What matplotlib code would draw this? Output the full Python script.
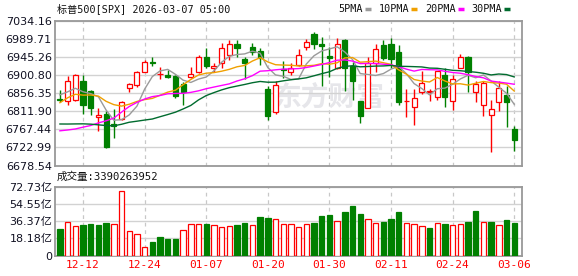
import matplotlib.pyplot as plt
import numpy as np
from matplotlib.lines import Line2D

dates = ['12-09', '12-10', '12-11', '12-12', '12-15', '12-16', '12-17', '12-18', '12-19', '12-22',
         '12-23', '12-24', '12-26', '12-29', '12-30', '12-31', '01-02', '01-05', '01-06', '01-07',
         '01-08', '01-09', '01-12', '01-13', '01-14', '01-15', '01-16', '01-20', '01-21', '01-22',
         '01-23', '01-26', '01-27', '01-28', '01-29', '01-30', '02-02', '02-03', '02-04', '02-05',
         '02-06', '02-09', '02-10', '02-11', '02-12', '02-13', '02-17', '02-18', '02-19', '02-20',
         '02-23', '02-24', '02-25', '02-26', '02-27', '03-02', '03-03', '03-04', '03-05', '03-06']

opens = [6843, 6836.7, 6840, 6887.5, 6862.9, 6799, 6805.5, 6780, 6794, 6869.5,
         6876, 6908.8, 6935, 6903, 6902, 6900, 6879, 6896, 6910, 6946.5,
         6919, 6931, 6950, 6977.6, 6940.7, 6970, 6961, 6868, 6810.5, 6917,
         6910, 6927, 6970, 7003, 6977.6, 6948, 6920, 6988, 6925, 6838,
         6820, 6931, 6976, 6977.6, 6958, 6837, 6823.5, 6859.6, 6861, 6847.3,
         6902, 6838.3, 6918.6, 6946.5, 6859.6, 6826.8, 6803.9, 6835, 6853, 6769.5]
highs = [6864.5, 6899.8, 6904, 6902, 6865, 6820, 6812, 6817, 6838, 6881.7,
         6912, 6939, 6945.7, 6921, 6915, 6902, 6884, 6921, 6951, 6969.4,
         6931, 6980, 6987.5, 6989, 6945.7, 6980, 6968, 6874, 6886, 6936.6,
         6932, 6967, 6990.7, 7007, 6995.7, 6972, 6992, 6990, 6935, 6838,
         6945.7, 6978, 6988.3, 6994, 6976, 6868, 6868, 6912, 6866, 6912,
         6918.6, 6902, 6953, 6948, 6886, 6886, 6840.8, 6887.5, 6873.6, 6775]
lows = [6835, 6826.8, 6836.7, 6805.5, 6803.9, 6763, 6722, 6746.5, 6791, 6859.6,
        6871, 6908, 6925, 6892, 6894, 6846, 6827, 6894, 6906, 6920,
        6910, 6920, 6939, 6945, 6891.6, 6950, 6927, 6791.6, 6805.5, 6894,
        6901, 6923, 6963.6, 6966, 6873.6, 6895.7, 6917, 6863, 6841, 6783.5,
        6820, 6909, 6939, 6918.6, 6827, 6797, 6777.7, 6854.6, 6837, 6841,
        6822, 6816, 6918, 6861, 6834, 6800, 6712, 6813.7, 6772.7, 6713.7]
closes = [6841, 6887.5, 6902, 6828.5, 6820, 6802, 6723.6, 6777, 6835, 6879,
          6910, 6933, 6932, 6905, 6898, 6849, 6861, 6904, 6946.5, 6923,
          6924.5, 6968, 6977.6, 6967.8, 6931, 6958, 6943, 6800, 6877.7, 6914.5,
          6918.6, 6951.4, 6982, 6979, 6972.7, 6943, 6977.6, 6920, 6886, 6800,
          6931, 6966, 6943, 6941, 6835, 6838.6, 6845, 6882, 6863, 6910.4,
          6846.5, 6892.4, 6947.3, 6908.8, 6879.3, 6881.7, 6818.6, 6869.5, 6835, 6742.5]
prev_close = 6846.5

# volume in 亿
volume = [27.9, 35.3, 30.7, 32.1, 33.2, 32.1, 34.2, 32.8, 68.1, 25.8,
          22.2, 8.8, 14.1, 19.4, 17.3, 17.3, 26.8, 32.8, 32.8, 33.2,
          31.8, 29.7, 30.7, 32.1, 34.2, 31.8, 40.2, 39.5, 38.1, 32.8,
          32.8, 29.7, 32.8, 33.9, 41.3, 42.4, 36.0, 45.9, 52.2, 43.8,
          38.1, 33.9, 35.3, 38.1, 45.9, 33.9, 32.8, 30.7, 28.6, 33.9,
          32.8, 31.8, 32.8, 35.3, 47.0, 35.0, 35.3, 31.8, 37.1, 33.90263952]

ma5 = [6852.9, 6860.2, 6869.0, 6860.4, 6855.8, 6848.0, 6815.2, 6790.2, 6791.5, 6803.3,
       6824.9, 6866.8, 6897.8, 6911.8, 6915.6, 6903.4, 6889.0, 6883.4, 6891.7, 6896.7,
       6911.8, 6933.2, 6947.9, 6952.2, 6953.8, 6960.5, 6955.5, 6920.0, 6901.9, 6898.6,
       6890.8, 6892.4, 6928.8, 6949.2, 6961.0, 6966.0, 6971.3, 6958.5, 6939.9, 6905.3,
       6902.9, 6900.6, 6905.2, 6916.2, 6923.2, 6904.7, 6880.5, 6868.3, 6852.7, 6867.8,
       6869.4, 6878.9, 6891.9, 6901.1, 6894.9, 6901.9, 6887.1, 6871.6, 6856.8, 6829.5]
ma10 = [6833.4, 6845.5, 6854.3, 6852.1, 6852.5, 6849.6, 6836.8, 6828.6, 6825.0, 6829.6,
        6836.5, 6841.0, 6844.0, 6851.7, 6859.5, 6864.2, 6877.9, 6890.6, 6901.8, 6906.2,
        6907.6, 6911.1, 6915.7, 6922.0, 6925.3, 6936.2, 6944.4, 6934.0, 6927.1, 6926.2,
        6925.7, 6924.0, 6924.4, 6925.6, 6929.8, 6928.3, 6931.8, 6943.8, 6944.8, 6933.3,
        6934.6, 6936.0, 6932.0, 6928.0, 6914.3, 6903.8, 6890.6, 6886.8, 6884.5, 6895.5,
        6887.0, 6879.7, 6880.1, 6876.9, 6881.4, 6885.7, 6883.0, 6881.8, 6879.0, 6862.2]
ma20 = [6764.1, 6766.1, 6768.6, 6773.1, 6777.2, 6783.6, 6788.8, 6795.4, 6810.2, 6824.0,
        6834.2, 6842.5, 6848.4, 6851.2, 6855.4, 6856.2, 6856.6, 6858.9, 6862.7, 6867.9,
        6872.0, 6876.0, 6879.9, 6886.9, 6892.4, 6900.2, 6911.2, 6912.3, 6914.5, 6916.2,
        6916.7, 6917.6, 6920.2, 6923.9, 6927.7, 6932.4, 6938.2, 6939.0, 6936.0, 6929.8,
        6930.2, 6930.0, 6928.3, 6926.9, 6922.2, 6916.2, 6911.3, 6915.4, 6914.7, 6914.4,
        6910.8, 6907.9, 6906.1, 6902.5, 6897.9, 6894.8, 6886.8, 6884.3, 6881.8, 6878.9]
ma30 = [6780.9, 6780.8, 6781.1, 6781.3, 6780.5, 6778.8, 6777.1, 6776.4, 6780.2, 6785.2,
        6787.8, 6790.6, 6793.2, 6798.8, 6804.2, 6810.0, 6818.0, 6826.7, 6840.3, 6851.0,
        6858.3, 6865.0, 6870.5, 6874.5, 6878.4, 6882.7, 6885.8, 6883.9, 6884.1, 6887.3,
        6890.0, 6892.1, 6894.8, 6899.8, 6905.0, 6909.7, 6918.1, 6922.9, 6924.6, 6921.9,
        6922.7, 6923.7, 6924.1, 6925.3, 6923.2, 6922.9, 6922.3, 6921.6, 6918.8, 6918.3,
        6915.8, 6913.3, 6912.3, 6910.3, 6908.6, 6906.0, 6901.9, 6904.2, 6902.8, 6897.0]

price_ticks = [6678.54, 6722.99, 6767.44, 6811.90, 6856.35, 6900.80, 6945.26, 6989.71, 7034.16]
vol_ticks = [0, 18.18, 36.37, 54.55, 72.73]
vol_labels = ['0', '18.18亿', '36.37亿', '54.55亿', '72.73亿']
date_labels = ['12-12', '12-24', '01-07', '01-20', '01-30', '02-11', '02-24', '03-06']

RED = '#ff0000'
GREEN = '#008000'
GRID = '#d2d2d2'
FRAME = '#999999'
TXT = '#111122'
ma_styles = [('5PMA', ma5, '#9a9a9a'), ('10PMA', ma10, '#f0a000'),
             ('20PMA', ma20, '#ff00ff'), ('30PMA', ma30, '#006b2e')]

W, H = 578, 276
fig = plt.figure(figsize=(W / 100, H / 100), dpi=100)
ax = fig.add_axes([55.3 / W, 1 - 165.5 / H, 467 / W, 144.2 / H])
axv = fig.add_axes([55.3 / W, 1 - 255.5 / H, 467 / W, 68.8 / H])

x = np.arange(len(dates))
o, h, l, c = (np.array(v) for v in (opens, highs, lows, closes))
up = c >= o
cols = np.where(up, RED, GREEN)
tick_idx = [dates.index(d) for d in date_labels]

for a in (ax, axv):
    a.set_xlim(-0.6, len(dates) + 0.05)
    for i in tick_idx:
        a.axvline(i, color='#c8c8c8', lw=0.9, ls=(0, (3, 3)), zorder=0)
    a.grid(axis='y', color=GRID, lw=1.0, zorder=0)
    a.set_axisbelow(True)
    for s in a.spines.values():
        s.set_color(FRAME)
        s.set_linewidth(1.3)
    a.tick_params(length=0, labelsize=8, labelcolor=TXT)

# watermark
ax.text(0.585, 0.47, '东方财富', transform=ax.transAxes, fontsize=20, fontweight='bold',
        color='#e6e6ea', ha='center', va='center', family='Noto Sans CJK SC', zorder=0)

# candles
ax.vlines(x, l, h, colors=cols, lw=1.0, zorder=2)
ax.bar(x, np.maximum(np.abs(c - o), 0.5), bottom=np.minimum(o, c), width=0.66,
       facecolor=np.where(up, 'white', GREEN), edgecolor=cols, linewidth=0.9, zorder=3)
for name, vals, col in ma_styles:
    ax.plot(x, vals, color=col, lw=1.0, zorder=4)

ax.set_ylim(price_ticks[0], price_ticks[-1])
ax.set_yticks(price_ticks)
ax.set_yticklabels([f'{v:.2f}' for v in price_ticks])
ax.set_xticks([])
ax.tick_params(axis='y', pad=2.5)

# volume
vol_up = np.diff(np.r_[prev_close, c]) >= 0
vcols = np.where(vol_up, RED, GREEN)
axv.bar(x, volume, width=0.7, facecolor=np.where(vol_up, 'white', GREEN),
        edgecolor=vcols, linewidth=0.9, zorder=3)
axv.set_ylim(0, vol_ticks[-1])
axv.set_yticks(vol_ticks)
axv.set_yticklabels(vol_labels, family=['DejaVu Sans', 'Noto Sans CJK SC'])
axv.tick_params(axis='y', pad=2)
axv.set_xticks(tick_idx)
axv.set_xticklabels(date_labels, color=RED, family='DejaVu Sans Mono', fontsize=8)
axv.tick_params(axis='x', pad=3.5)

# header texts
fam = ['DejaVu Sans Mono', 'Noto Sans CJK SC']
fig.text(57 / W, 1 - 9 / H, '标普500[SPX] 2026-03-07 05:00', family=fam, fontsize=7.3,
         color='#111111', va='center', ha='left')
fig.text(57 / W, 1 - 177 / H, f'成交量:{volume[-1] * 1e8:.0f}', family=fam, fontsize=7.6,
         color='#111111', va='center', ha='left')

lx = 338
for name, vals, col in ma_styles:
    fig.text(lx / W, 1 - 9 / H, name, family='DejaVu Sans Mono', fontsize=7.3,
             color='#111111', va='center', ha='left')
    tw = len(name) * 5.9
    fig.add_artist(Line2D([(lx + tw + 3) / W, (lx + tw + 9) / W], [1 - 9 / H, 1 - 9 / H],
                          color=col, lw=2.5, solid_capstyle='butt'))
    lx += tw + 17

fig.savefig('out.png', dpi=100)
